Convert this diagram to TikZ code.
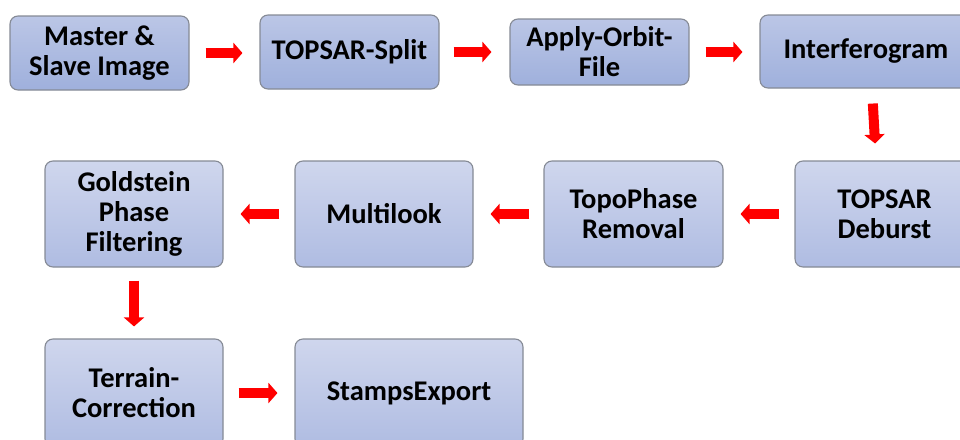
\documentclass[tikz,border=0pt]{standalone}
\usepackage{fontspec}
\setmainfont{Carlito}
\usetikzlibrary{arrows.meta}
\definecolor{boxborder}{HTML}{858A95}
\definecolor{topA}{HTML}{BBC6E6}
\definecolor{botA}{HTML}{9FB0DC}
\definecolor{topB}{HTML}{CFD6ED}
\definecolor{botB}{HTML}{AFBCE2}
\definecolor{arrowred}{HTML}{FF0000}
\tikzset{
  box/.style={draw=boxborder, line width=1.1pt, rounded corners=8pt,
    align=center, inner sep=0pt, font=\fontsize{28.5}{30}\selectfont\bfseries},
  rowA/.style={box, top color=topA, bottom color=botA},
  rowB/.style={box, top color=topB, bottom color=botB},
  blockarrow/.style={draw=arrowred, line width=10pt,
    -{Triangle[length=9pt,width=20pt,fill=arrowred]}}
}
\begin{document}
\begin{tikzpicture}[x=1pt,y=-1pt]
\useasboundingbox (0,0) rectangle (960,439);
\clip (0,0) rectangle (960,439);
% row 1
\node[rowA, minimum width=179pt, minimum height=74pt] (master) at (99.5,53) {Master \&\\Slave Image};
\node[rowA, minimum width=179pt, minimum height=74pt] (split) at (349.5,52) {TOPSAR-Split};
\node[rowA, minimum width=179pt, minimum height=66pt] (orbit) at (599.5,52) {Apply-Orbit-\\File};
\node[rowA, minimum width=212pt, minimum height=73pt] (interf) at (866,51.5) {Interferogram};
% row 2
\node[rowB, minimum width=178pt, minimum height=106pt] (gold) at (134,214) {Goldstein\\Phase\\Filtering};
\node[rowB, minimum width=178pt, minimum height=106pt] (multi) at (384,214) {Multilook};
\node[rowB, minimum width=179pt, minimum height=106pt] (topo) at (633.5,214) {TopoPhase\\Removal};
\node[rowB, minimum width=179pt, minimum height=106pt] (deburst) at (884.5,214) {TOPSAR\\Deburst};
% row 3
\node[rowB, minimum width=178pt, minimum height=108pt] (terrain) at (134,393) {Terrain-\\Correction};
\node[rowB, minimum width=228pt, minimum height=108pt] (stamps) at (409,393) {StampsExport};
% arrows
\draw[blockarrow, shorten <=16pt, shorten >=17pt] (master.east) -- (master.east -| split.west);
\draw[blockarrow, shorten <=14pt, shorten >=18pt] (split.east) -- (split.east -| orbit.west);
\draw[blockarrow, shorten <=16pt, shorten >=17pt] (orbit.east) -- (orbit.east -| interf.west);
\draw[blockarrow, shorten <=15pt, shorten >=17pt] ([xshift=6pt]interf.south) -- ([xshift=-8.5pt]deburst.north);
\draw[blockarrow, shorten <=15pt, shorten >=17pt] (deburst.west) -- (topo.east);
\draw[blockarrow, shorten <=14pt, shorten >=17pt] (topo.west) -- (multi.east);
\draw[blockarrow, shorten <=15pt, shorten >=17pt] (multi.west) -- (gold.east);
\draw[blockarrow, shorten <=13pt, shorten >=12pt] (gold.south) -- (terrain.north);
\draw[blockarrow, shorten <=15pt, shorten >=17pt] (terrain.east) -- (stamps.west);
\end{tikzpicture}
\end{document}
